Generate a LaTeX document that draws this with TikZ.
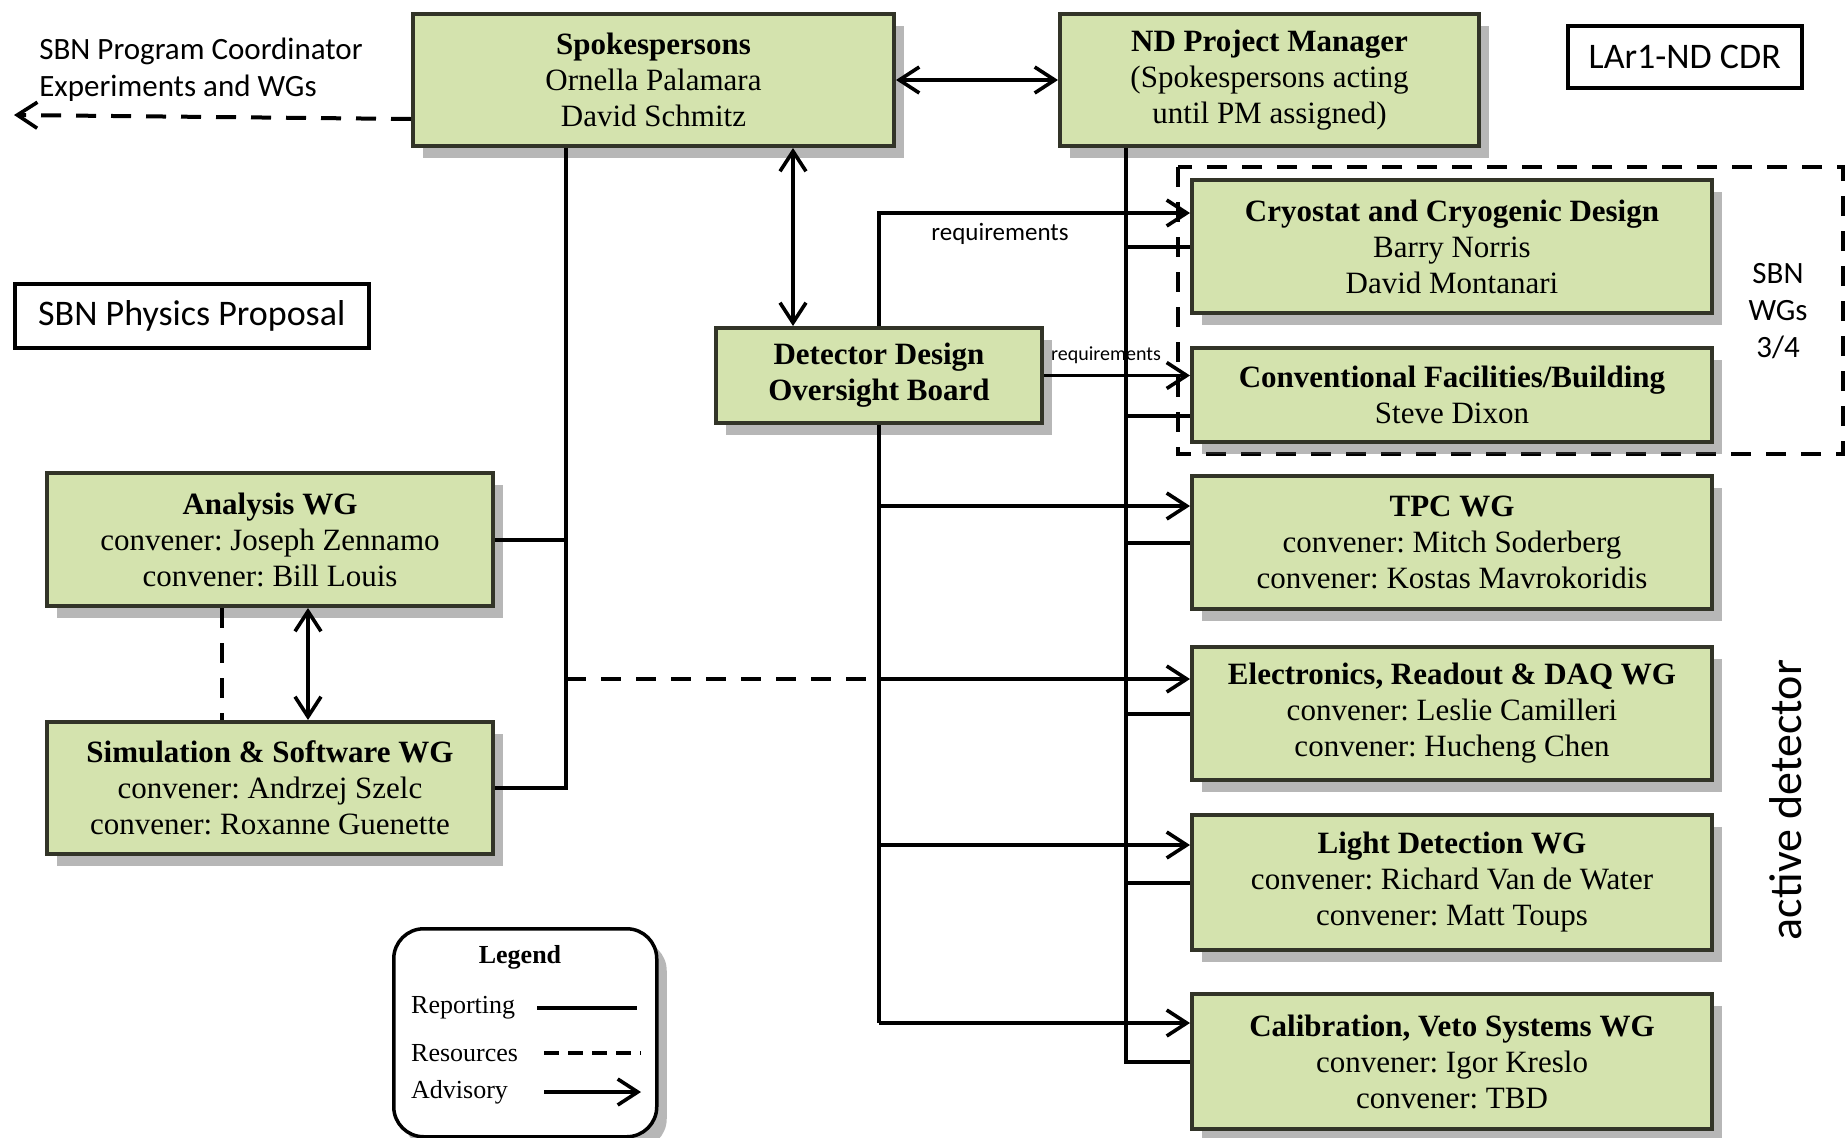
\documentclass[tikz,border=0pt]{standalone}
\usepackage{fontspec}
\setmainfont{Liberation Serif}
\newfontfamily\calibri{Carlito}
\usetikzlibrary{arrows.meta,shadows,calc}
\definecolor{boxgreen}{RGB}{212,227,174}
\definecolor{boxedge}{RGB}{50,52,40}
\tikzset{
  wg/.style={draw=boxedge, line width=4pt, fill=boxgreen, anchor=north west, align=center, inner sep=0pt,
    font=\frenchspacing\fontsize{31}{36}\selectfont,
    drop shadow={shadow xshift=10pt, shadow yshift=-12pt, opacity=0.4, fill=black!70}},
  rep/.style={line width=4pt, draw=black},
  res/.style={line width=4pt, dash pattern=on 20pt off 15pt},
  barb/.tip={Straight Barb[length=20pt,width=26pt,line width=3.6pt]},
  adv/.style={line width=3.4pt, -barb},
  dadv/.style={line width=3.4pt, barb-barb},
  lab/.style={font=\calibri\fontsize{31}{37}\selectfont, align=left, inner sep=0pt},
  plainbox/.style={draw=black, line width=3.5pt, fill=white, anchor=north west, inner sep=0pt, font=\calibri\fontsize{36}{40}\selectfont},
  legtext/.style={font=\fontsize{26}{30}\selectfont, anchor=west, inner sep=0pt},
}
\begin{document}
\begin{tikzpicture}[x=1pt,y=-1pt]
\useasboundingbox (0,0) rectangle (1845,1138);

% dashed SBN WG group
\draw[res] (1178,167) rectangle (1843,454);

% boxes
\node[wg, minimum width=481pt, minimum height=132pt] (spokes) at (411,12) {\textbf{Spokespersons}\\Ornella Palamara\\David Schmitz};
\node[wg, minimum width=419pt, minimum height=132pt] (ndpm) at (1058,12) {\textbf{ND Project Manager}\\(Spokespersons acting\\until PM assigned)};
\node[wg, minimum width=326pt, minimum height=95pt] (ddob) at (714,326) {\textbf{Detector Design}\\\textbf{Oversight Board}};
\node[wg, minimum width=446pt, minimum height=133pt] (ana) at (45,471) {\textbf{Analysis WG}\\convener: Joseph Zennamo\\convener: Bill Louis};
\node[wg, minimum width=446pt, minimum height=132pt] (sim) at (45,720) {\textbf{Simulation \& Software WG}\\convener: Andrzej Szelc\\convener: Roxanne Guenette};
\node[wg, minimum width=520pt, minimum height=133pt] (cryo) at (1190,178) {\textbf{Cryostat and Cryogenic Design}\\Barry Norris\\David Montanari};
\node[wg, minimum width=520pt, minimum height=94pt] (conv) at (1190,346) {\textbf{Conventional Facilities/Building}\\Steve Dixon};
\node[wg, minimum width=520pt, minimum height=133pt] (tpc) at (1190,474) {\textbf{TPC WG}\\convener: Mitch Soderberg\\convener: Kostas Mavrokoridis};
\node[wg, minimum width=520pt, minimum height=133pt] (elec) at (1190,645) {\textbf{Electronics, Readout \& DAQ WG}\\convener: Leslie Camilleri\\convener: Hucheng Chen};
\node[wg, minimum width=520pt, minimum height=135pt] (light) at (1190,813) {\textbf{Light Detection WG}\\convener: Richard Van de Water\\convener: Matt Toups};
\node[wg, minimum width=520pt, minimum height=135pt] (cal) at (1190,992) {\textbf{Calibration, Veto Systems WG}\\convener: Igor Kreslo\\convener: TBD};

\node[plainbox, minimum width=234pt, minimum height=62pt] (lar) at (1566,24) {LAr1-ND CDR};
\node[plainbox, minimum width=354pt, minimum height=64pt] (phys) at (13,282) {SBN Physics Proposal};

\node[lab] (coord) at (201,70) {SBN Program Coordinator\\Experiments and WGs};
\node[lab, align=center] (sbnwg) at (1778,311) {SBN\\WGs\\3/4};
\node[lab, rotate=90, font=\calibri\fontsize{46}{50}\selectfont] (act) at (1786,800) {active detector};

% coordinates
\coordinate (sx) at ($(spokes.south west)+(155,0)$);
\coordinate (sd) at ($(spokes.south west)+(382,0)$);
\coordinate (nv) at ($(ndpm.south west)+(68,0)$);
\coordinate (left) at (14,115);
\coordinate (cryoA) at ($(cryo.north west)+(0,35)$);
\coordinate (tpcA) at ($(tpc.north west)+(0,32)$);
\coordinate (elecA) at ($(elec.north west)+(0,34)$);
\coordinate (lightA) at ($(light.north west)+(0,32)$);
\coordinate (calA) at ($(cal.north west)+(0,31)$);
\coordinate (convR) at ($(conv.west)+(0,21)$);
\coordinate (a1) at ($(ana.south west)+(263,0)$);
\coordinate (a2) at ($(ana.south west)+(177,0)$);

% spokespersons connections
\draw[res, -barb] ($(spokes.south west)+(0,-29)$) -- (left);
\draw[dadv] (spokes.east) -- (ndpm.west);
\draw[dadv] (sd) -- (sd |- ddob.north);
\draw[rep] (sx) |- (sim.east);
\draw[rep] (sx |- ana.east) -- (ana.east);
\draw[res] (sx |- elecA) -- (ddob.south |- elecA);

% analysis / simulation
\draw[dadv] (a1) -- (a1 |- sim.north);
\draw[res] (a2) -- (a2 |- sim.north);

% ND PM reporting
\draw[rep] (nv) |- (cal.west);
\draw[rep] (nv |- cryo.west) -- (cryo.west);
\draw[rep] (nv |- convR) -- (convR);
\draw[rep] (nv |- tpc.west) -- (tpc.west);
\draw[rep] (nv |- elec.west) -- (elec.west);
\draw[rep] (nv |- light.west) -- (light.west);

% DDOB advisory
\draw[adv] (ddob.north) |- (cryoA);
\draw[adv] (ddob.east) -- (ddob.east -| conv.west);
\draw[rep] (ddob.south) -- (ddob.south |- calA);
\draw[adv] (ddob.south |- tpcA) -- (tpcA);
\draw[adv] (ddob.south |- elecA) -- (elecA);
\draw[adv] (ddob.south |- lightA) -- (lightA);
\draw[adv] (ddob.south |- calA) -- (calA);

\node[font=\calibri\fontsize{25}{28}\selectfont, inner sep=0pt] (req1) at (1000,234) {requirements};
\node[font=\calibri\fontsize{20}{22}\selectfont, inner sep=0pt] (req2) at (1106,355) {requirements};

% legend
\node[draw=black, line width=3.5pt, rounded corners=30pt, fill=white, anchor=north west, minimum width=263pt, minimum height=208pt,
  drop shadow={shadow xshift=10pt, shadow yshift=-12pt, opacity=0.4, fill=black!70}] (leg) at (392,927) {};
\node[font=\bfseries\fontsize{26}{30}\selectfont, inner sep=0pt] (legt) at (520,957) {Legend};
\node[legtext] (lrep) at (411,1008) {Reporting};
\node[legtext] (lres) at (411,1053) {Resources};
\node[legtext] (ladv) at (411,1092) {Advisory};
\coordinate (r1) at (537,1008); \coordinate (r2) at (637,1008);
\coordinate (s1) at (544,1053); \coordinate (s2) at (641,1053);
\coordinate (v1) at (544,1092); \coordinate (v2) at (641,1092);
\draw[rep] (r1) -- (r2);
\draw[line width=4pt, dash pattern=on 15pt off 9pt] (s1) -- (s2);
\draw[adv] (v1) -- (v2);
\end{tikzpicture}
\end{document}
